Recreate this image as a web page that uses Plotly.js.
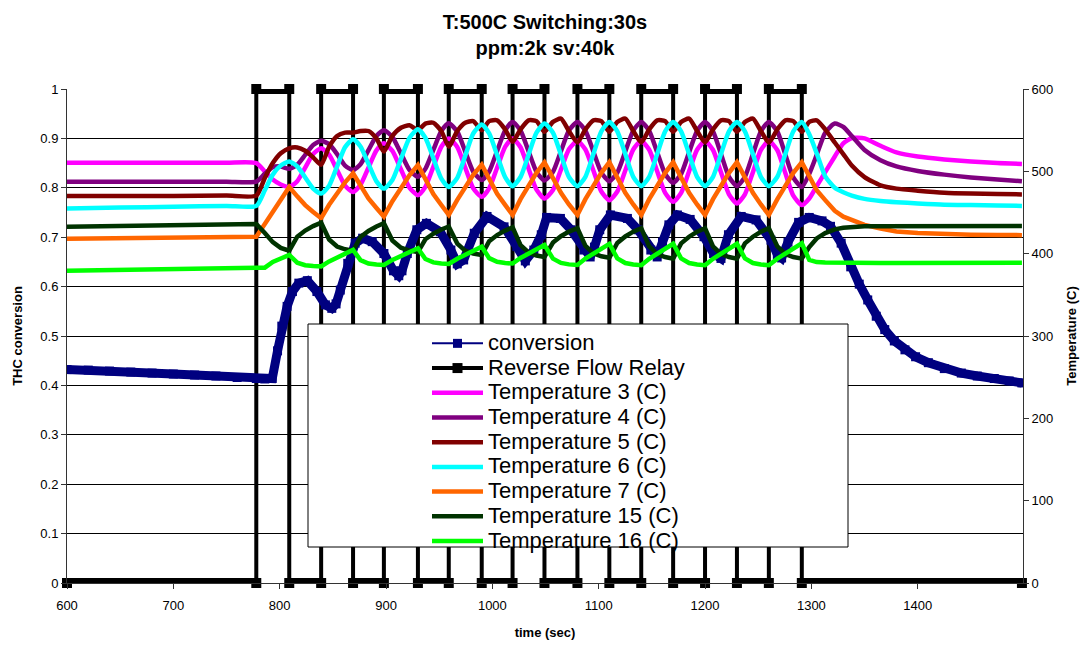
<!DOCTYPE html>
<html>
<head>
<meta charset="utf-8">
<script src="https://cdn.plot.ly/plotly-3.0.1.min.js"></script>
<style>
  html, body { margin: 0; padding: 0; background: #fff; }
  #chart { width: 1086px; height: 647px; }
</style>
</head>
<body>
<div id="chart"></div>
<script>
// Reverse-flow reactor run: 500 C, 30 s switching, 2k ppm, SV 40k

// Reverse flow relay: switching instants (s) and the level held after each one
const relaySwitchTimes = [600, 778, 809, 839, 869, 898, 930, 959, 990, 1019, 1049, 1080, 1110, 1140, 1170, 1200, 1230, 1260, 1291, 1498];
const relayLevels      = [0, 1, 0, 1, 0, 1, 0, 1, 0, 1, 0, 1, 0, 1, 0, 1, 0, 1, 0];

// THC conversion (left axis)
const convTime = [600, 620, 640, 660, 680, 700, 720, 740, 760, 778,
  786, 793, 798, 802, 807, 812, 818, 826, 835, 843,
  849, 853, 857, 864, 871, 878, 887, 898, 907, 912,
  915, 920, 929, 938, 951, 961, 967, 973, 983, 995,
  1011, 1023, 1031, 1039, 1046, 1051, 1064, 1074, 1086, 1092,
  1096, 1101, 1111, 1127, 1137, 1149, 1155, 1160, 1166, 1174,
  1186, 1199, 1208, 1215, 1222, 1234, 1248, 1262, 1268, 1272,
  1278, 1288, 1298, 1310, 1318, 1328, 1337, 1345, 1353, 1361,
  1369, 1378, 1388, 1398, 1410, 1425, 1441, 1456, 1472, 1486, 1498];
const conversion = [0.432, 0.431, 0.429, 0.427, 0.425, 0.423, 0.421, 0.419, 0.416, 0.414,
  0.413, 0.414, 0.470, 0.520, 0.560, 0.590, 0.607, 0.612, 0.590, 0.563,
  0.556, 0.565, 0.593, 0.647, 0.688, 0.698, 0.691, 0.667, 0.632, 0.622,
  0.632, 0.667, 0.715, 0.728, 0.711, 0.674, 0.646, 0.654, 0.708, 0.742,
  0.721, 0.681, 0.652, 0.674, 0.705, 0.740, 0.738, 0.715, 0.674, 0.660,
  0.680, 0.715, 0.745, 0.738, 0.715, 0.674, 0.660, 0.690, 0.725, 0.745,
  0.736, 0.701, 0.667, 0.657, 0.705, 0.742, 0.735, 0.694, 0.665, 0.658,
  0.690, 0.730, 0.740, 0.733, 0.722, 0.688, 0.640, 0.605, 0.573, 0.540,
  0.513, 0.490, 0.472, 0.458, 0.446, 0.434, 0.425, 0.419, 0.414, 0.409, 0.405];

// Bed temperatures (right axis), all logged on the same time base
const tempTime = [600, 650, 700, 750, 778,
  786, 793.5, 801, 809,
  816.5, 824, 831.5, 839,
  846.5, 854, 861.5, 869,
  876, 883.5, 891, 898,
  906, 914, 922, 930,
  937, 944.5, 952, 959,
  967, 974.5, 982, 990,
  997, 1004.5, 1012, 1019,
  1026.5, 1034, 1041.5, 1049,
  1057, 1064.5, 1072, 1080,
  1087.5, 1095, 1102.5, 1110,
  1117.5, 1125, 1132.5, 1140,
  1147.5, 1155, 1162.5, 1170,
  1177.5, 1185, 1192.5, 1200,
  1207.5, 1215, 1222.5, 1230,
  1237.5, 1245, 1252.5, 1260,
  1268, 1275.5, 1283, 1291,
  1298, 1305, 1313, 1322, 1330, 1338, 1350, 1365, 1380, 1400, 1425, 1450, 1475, 1498];

const temp3 = [510.5, 510.5, 510.5, 510.5, 510,
  500, 490, 484, 481,
  488, 504.5, 521, 528,
  520.3, 501.5, 482.7, 475,
  483.6, 504.5, 525.4, 534,
  524.8, 502.5, 480.2, 471,
  481.1, 505.5, 529.9, 540,
  529.6, 504.5, 479.4, 469,
  479.4, 504.5, 529.6, 540,
  529.3, 503.5, 477.7, 467,
  477.2, 502, 526.8, 537,
  526.5, 501, 475.5, 465,
  475.5, 501, 526.5, 537,
  526.2, 500, 473.8, 463,
  473.8, 500, 526.2, 537,
  525.9, 499, 472.1, 461,
  472.1, 499, 525.9, 537,
  525.6, 498, 470.4, 459,
  467, 482, 499, 518, 534, 540.5, 540, 531, 523, 518, 514.5, 512, 510, 509];

const temp4 = [487.5, 487.5, 487.5, 487.5, 487.5,
  497, 505, 506, 503,
  508, 520, 532, 537,
  533, 521, 507, 501.6,
  508.7, 525.8, 542.9, 550,
  541.7, 521.8, 501.8, 493.5,
  503, 526, 549, 558.4,
  548.3, 524, 499.6, 489.5,
  499.8, 524.8, 549.7, 560,
  549.6, 524.5, 499.4, 489,
  499.4, 524.5, 549.6, 560,
  549.5, 524, 498.5, 488,
  498.5, 524, 549.5, 560,
  549.2, 523, 496.8, 486,
  496.8, 523, 549.2, 560,
  548.6, 521, 493.4, 482,
  493.4, 521, 548.6, 560,
  548.5, 520.5, 492.5, 481,
  497, 520, 547, 558, 554, 543, 526, 513.5, 506, 500.5, 496, 492.5, 490, 488];

const temp5 = [470, 470, 470, 470.5, 470.5,
  492, 510, 522, 528,
  529, 525, 517, 508,
  530, 543, 547, 547,
  549, 549, 540, 524,
  543, 553, 556, 550,
  558, 559, 549, 530,
  549, 559, 561, 550,
  561, 562, 551, 536,
  551, 562, 561, 548,
  560, 564, 549, 535,
  551, 562, 561, 548,
  560, 564, 549, 535,
  551, 562, 561, 548,
  560, 564, 549, 535,
  551, 562, 561, 548,
  560, 564, 549, 535,
  551, 562, 561, 548,
  560, 562, 551, 535, 521, 507, 493, 483, 479, 476.5, 474, 473, 472.5, 472];

const temp6 = [455, 456, 457, 458, 458,
  477, 496, 507, 512,
  506, 492.5, 479, 473,
  482.6, 506, 529.4, 539,
  530.2, 509, 487.8, 479,
  489.5, 515, 540.5, 551,
  540.8, 516, 491.2, 481,
  492.1, 519, 545.9, 557,
  546, 519.5, 493, 482,
  493.1, 520, 546.9, 558,
  546.9, 520, 493.1, 482,
  493.4, 521, 548.6, 560,
  548.6, 521, 493.4, 482,
  493.4, 521, 548.6, 560,
  548.6, 521, 493.4, 482,
  493.4, 521, 548.6, 560,
  548.6, 521, 493.4, 482,
  493.4, 521, 548.6, 560,
  545, 522, 494, 480, 474.5, 470.5, 466.5, 464, 462.5, 461, 459.5, 459, 458.5, 458];

const temp7 = [418, 418.5, 419, 420, 420.5,
  436, 451, 467, 481,
  469.6, 459, 450.6, 443,
  459.4, 473, 486.7, 497.6,
  481.8, 467.1, 455.5, 445,
  463.8, 479.5, 495.2, 507.7,
  489.5, 472.5, 459.1, 447,
  465.3, 480.6, 495.8, 508,
  489.7, 472.6, 459.2, 447,
  466.2, 482.2, 498.2, 511,
  491.8, 473.9, 459.8, 447,
  466.2, 482.2, 498.2, 511,
  491.8, 473.9, 459.8, 447,
  466.2, 482.2, 498.2, 511,
  491.8, 473.9, 459.8, 447,
  466.2, 482.2, 498.2, 511,
  491.8, 473.9, 459.8, 447,
  466.2, 482.2, 498.2, 511,
  494, 477, 465, 452, 445, 441, 435, 430.5, 427, 425, 423.5, 423, 422.7, 422.5];

const temp15 = [432.8, 433.5, 434.5, 435.5, 436,
  425, 414, 407, 403.6,
  420.6, 428.1, 433.5, 437.6,
  417.2, 408.7, 405.3, 403.6,
  420.3, 427.6, 433, 437,
  416, 407.3, 403.8, 402,
  417.5, 424.3, 429.3, 433,
  412.2, 403.6, 400.1, 398.4,
  415.2, 422.6, 428, 432,
  410.4, 401.4, 397.8, 396,
  413.5, 421.2, 426.8, 431,
  409.4, 400.4, 396.8, 395,
  413, 420.9, 426.7, 431,
  408.8, 399.6, 395.9, 394,
  412.5, 420.6, 426.6, 431,
  408.8, 399.6, 395.9, 394,
  412.5, 420.6, 426.6, 431,
  408.8, 399.6, 395.9, 394,
  408, 418.5, 425, 429.5, 431.5, 432.5, 433.2, 433.4, 433.5, 433.5, 433.5, 433.5, 433.5, 433.5];

const temp16 = [379.3, 380.3, 381.3, 382.5, 383.4,
  383, 390, 394.5, 398.4,
  389, 386, 385, 384.6,
  390.6, 395.5, 400.1, 404.5,
  392.1, 388.1, 386.8, 386.3,
  392.4, 397.4, 402.1, 406.5,
  393.6, 389.4, 388.1, 387.5,
  393.8, 399.1, 403.9, 408.5,
  394.6, 390.1, 388.6, 388,
  394.8, 400.4, 405.6, 410.5,
  394, 388.7, 387, 386.3,
  394, 400.4, 406.3, 412,
  394.3, 388.6, 386.8, 386,
  393.8, 400.3, 406.3, 412,
  394.3, 388.6, 386.8, 386,
  393.8, 400.3, 406.3, 412,
  394.3, 388.6, 386.8, 386,
  394, 400.6, 406.7, 412.6,
  392.5, 389.8, 389.3, 389, 388.8, 388.7, 388.7, 388.7, 388.8, 388.8, 388.9, 389, 389, 389];

// Legend captions
const seriesNames = ['conversion', 'Reverse Flow Relay', 'Temperature 3 (C)', 'Temperature 4 (C)',
  'Temperature 5 (C)', 'Temperature 6 (C)', 'Temperature 7 (C)', 'Temperature 15 (C)', 'Temperature 16 (C)'];

// ---- relay as a square wave: each held level becomes a horizontal run
const relayT = [], relayV = [], barT = [], barV = [];
for (let i = 0; i < relayLevels.length; i++) {
  relayT.push(relaySwitchTimes[i], relaySwitchTimes[i + 1]);
  relayV.push(relayLevels[i], relayLevels[i]);
  barT.push(relaySwitchTimes[i], relaySwitchTimes[i + 1], null);
  barV.push(relayLevels[i], relayLevels[i], null);
}

// legend rows are packed tightly, so the caption text is set larger than the row pitch font
const legendLabel = s => '<span style="font-size:22px">' + s + '</span>';
const FONT = 'Liberation Sans, Arial, sans-serif';

const traces = [];

// relay: heavy runs at 0 and 1, thinner switching edges
traces.push({
  x: barT, y: barV, yaxis: 'y', mode: 'lines', showlegend: false, hoverinfo: 'skip',
  line: { color: '#000', width: 10 }, cliponaxis: false, legendgroup: 'relay'
});
traces.push({
  x: relayT, y: relayV, yaxis: 'y', mode: 'lines+markers', name: legendLabel(seriesNames[1]),
  legendrank: 2, legendgroup: 'relay', cliponaxis: false,
  line: { color: '#000', width: 4 },
  marker: { symbol: 'square', size: 10, color: '#000' }
});

// conversion: wide band plus the marked series on top
traces.push({
  x: convTime, y: conversion, yaxis: 'y', mode: 'lines', showlegend: false, hoverinfo: 'skip',
  line: { color: '#000080', width: 9 }, legendgroup: 'conv'
});
traces.push({
  x: convTime, y: conversion, yaxis: 'y', mode: 'lines+markers', name: legendLabel(seriesNames[0]),
  legendrank: 1, legendgroup: 'conv',
  line: { color: '#000080', width: 2 },
  marker: { symbol: 'square', size: 9, color: '#000080' }
});

// temperatures on the secondary axis
const tempSeries = [
  { y: temp3,  name: seriesNames[2], color: '#FF00FF', shape: 'spline' },
  { y: temp4,  name: seriesNames[3], color: '#800080', shape: 'spline' },
  { y: temp5,  name: seriesNames[4], color: '#800000', shape: 'spline' },
  { y: temp6,  name: seriesNames[5], color: '#00FFFF', shape: 'spline' },
  { y: temp7,  name: seriesNames[6], color: '#FF6600', shape: 'linear' },
  { y: temp15, name: seriesNames[7], color: '#003300', shape: 'linear' },
  { y: temp16, name: seriesNames[8], color: '#00FF00', shape: 'linear' }
];
tempSeries.forEach((s, i) => {
  traces.push({
    x: tempTime, y: s.y, yaxis: 'y2', mode: 'lines', name: legendLabel(s.name),
    legendrank: 3 + i,
    line: { color: s.color, width: 4.5, shape: s.shape, smoothing: 0.6 }
  });
});

// paper-space box that holds the legend
const plotL = 67, plotR = 1023, plotT = 89, plotB = 583;
const px2x = px => (px - plotL) / (plotR - plotL);
const px2y = py => (plotB - py) / (plotB - plotT);

const layout = {
  width: 1086, height: 647,
  margin: { l: plotL, r: 1086 - plotR, t: plotT, b: 647 - plotB, pad: 0 },
  paper_bgcolor: '#fff', plot_bgcolor: '#fff',
  font: { family: FONT, color: '#000', size: 13 },
  hovermode: false,
  title: {
    text: 'T:500C Switching:30s<br>ppm:2k sv:40k',
    font: { family: FONT, size: 20, weight: 'bold', color: '#000' },
    x: 0.5, xanchor: 'center', xref: 'paper',
    y: 1 - 29 / 647, yanchor: 'middle', yref: 'container'
  },
  showlegend: true,
  legend: {
    x: px2x(427), xanchor: 'left', y: px2y(326), yanchor: 'top',
    bgcolor: 'rgba(0,0,0,0)', borderwidth: 0,
    font: { family: FONT, size: 16.7, color: '#000' },
    itemwidth: 51, traceorder: 'normal', itemclick: false, itemdoubleclick: false
  },
  shapes: [{
    type: 'rect', xref: 'paper', yref: 'paper', layer: 'above',
    x0: px2x(308), x1: px2x(848), y0: px2y(547), y1: px2y(324),
    fillcolor: '#fff', line: { color: '#000', width: 1 }
  }],
  xaxis: {
    range: [600, 1499], tick0: 600, dtick: 100,
    ticks: 'outside', ticklen: 5, tickcolor: '#333',
    showline: true, linecolor: '#333', linewidth: 1,
    showgrid: false, zeroline: false, ticklabelstandoff: 5,
    tickfont: { family: FONT, size: 13 },
    title: { text: 'time (sec)', font: { family: FONT, size: 13, weight: 'bold' }, standoff: 16 }
  },
  yaxis: {
    range: [0, 1], tick0: 0, dtick: 0.1,
    ticks: 'outside', ticklen: 5, tickcolor: '#333',
    showline: true, linecolor: '#333', linewidth: 1,
    showgrid: true, gridcolor: '#000', gridwidth: 1, zeroline: false,
    tickfont: { family: FONT, size: 13 },
    title: { text: 'THC conversion', font: { family: FONT, size: 13, weight: 'bold' }, standoff: 14 }
  },
  yaxis2: {
    overlaying: 'y', side: 'right', anchor: 'x',
    range: [0, 600], tick0: 0, dtick: 100,
    ticks: 'outside', ticklen: 5, tickcolor: '#333',
    showline: true, linecolor: '#333', linewidth: 1,
    showgrid: false, zeroline: false,
    tickfont: { family: FONT, size: 13 },
    title: { text: 'Temperature (C)', font: { family: FONT, size: 13, weight: 'bold' }, standoff: 14 }
  },
  yaxis3: {
    overlaying: 'y', side: 'right', anchor: 'x',
    range: [0, 600], tick0: 0, dtick: 100,
    ticks: 'inside', ticklen: 5, tickcolor: '#333',
    showticklabels: false, showline: false, showgrid: false, zeroline: false
  }
};

Plotly.newPlot('chart', traces, layout, { displayModeBar: false, responsive: false });
</script>
</body>
</html>
